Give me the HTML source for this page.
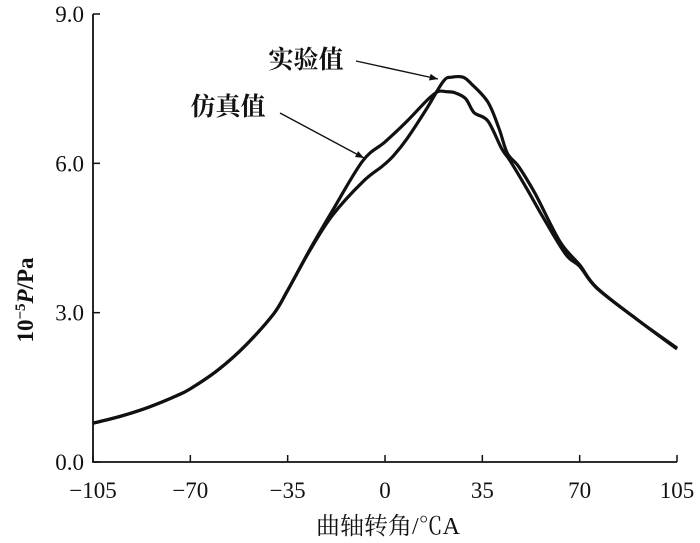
<!DOCTYPE html>
<html><head><meta charset="utf-8"><style>
body{margin:0;background:#fff}
svg{display:block}
text{font-family:"Liberation Serif","Noto Serif CJK SC",serif;fill:#111}
</style></head><body>
<svg id="chart" width="700" height="543" viewBox="0 0 700 543">
<defs><marker id="ah" viewBox="0 0 10 10" refX="10" refY="5" markerWidth="8" markerHeight="6" orient="auto"><path d="M0,1 L10,5 L0,9 z" fill="#111"/></marker></defs>
<g id="axes"></g>
<g id="series"></g>
<text x="306" y="68" font-size="25" font-weight="bold" text-anchor="middle" font-family="'Noto Serif CJK SC',serif">实验值</text>
<line x1="356" y1="61" x2="438" y2="79" stroke="#111" stroke-width="1.4" marker-end="url(#ah)"/>
<text x="228" y="115" font-size="25" font-weight="bold" text-anchor="middle" font-family="'Noto Serif CJK SC',serif">仿真值</text>
<line x1="280" y1="113" x2="364" y2="158" stroke="#111" stroke-width="1.4" marker-end="url(#ah)"/>
<text transform="translate(33,300) rotate(-90)" font-size="23" font-weight="bold" text-anchor="middle">10<tspan baseline-shift="super" font-size="15">−5</tspan><tspan font-style="italic">P</tspan>/Pa</text>
<text x="388" y="534" font-size="24" text-anchor="middle" font-family="'Noto Serif CJK SC',serif">曲轴转角/℃A</text>
</svg>
<script>
const xTicks=[-105,-70,-35,0,35,70,105];
const yTicks=[0,3,6,9];
const yTickLabels=["0.0","3.0","6.0","9.0"];
const expX=[-105,-95,-85,-75,-70,-60,-50,-40,-35,-27,-19,-8,-1,3,8,15,21,24,28,31,37,41,44,48,54,63,70,76,90,105];
const expY=[0.78,0.92,1.1,1.33,1.47,1.85,2.35,2.98,3.45,4.25,4.95,5.63,5.94,6.15,6.5,7.1,7.65,7.73,7.73,7.6,7.23,6.7,6.2,5.94,5.39,4.42,3.96,3.51,2.89,2.29];
const simX=[-105,-95,-85,-75,-70,-60,-50,-40,-35,-27,-19,-8,0,8,15,19,22,25,29,32,37,42,45,51,57,65,70,76,90,105];
const simY=[0.78,0.92,1.1,1.33,1.47,1.85,2.35,2.98,3.45,4.27,5.04,6.05,6.43,6.85,7.26,7.44,7.44,7.42,7.3,7.02,6.85,6.29,6.05,5.49,4.9,4.17,3.93,3.5,2.89,2.27];
const L=93,R=677,B=462,T=14;
const sx=v=>L+(v+105)/210*(R-L);
const sy=v=>B-v/9*(B-T);
const NS="http://www.w3.org/2000/svg";
function mk(tag,attrs,parent){const e=document.createElementNS(NS,tag);for(const k in attrs)e.setAttribute(k,attrs[k]);parent.appendChild(e);return e;}
const ax=document.getElementById('axes');
let a=mk('path',{d:`M${L},${T} L${L},${B} L${R},${B}`,fill:'none',stroke:'#111','stroke-width':1.8},ax);


xTicks.forEach(t=>{
 let l=mk('line',{x1:sx(t),x2:sx(t),y1:B,y2:B-7,stroke:'#111','stroke-width':1.5},ax);
 
 
 let tx=mk('text',{x:sx(t),y:B+36,'font-size':23,'text-anchor':'middle'},ax);
 tx.textContent=t<0?'−'+(-t):String(t);
 
 
});
yTicks.forEach((t,i)=>{
 let l=mk('line',{x1:L,x2:L+7,y1:sy(t),y2:sy(t),stroke:'#111','stroke-width':1.5},ax);
 
 
 let tx=mk('text',{x:L-9,y:sy(t)+8,'font-size':23,'text-anchor':'end'},ax);
 tx.textContent=yTickLabels[i];
 
 
});
const sg=document.getElementById('series');
function line(xs,ys,name){
 const P=xs.map((x,i)=>[sx(x),sy(ys[i])]);
 let d='M'+P[0][0].toFixed(1)+','+P[0][1].toFixed(1);
 for(let i=0;i<P.length-1;i++){
  const p0=P[Math.max(0,i-1)],p1=P[i],p2=P[i+1],p3=P[Math.min(P.length-1,i+2)];
  const k=1/6;
  const c1=[p1[0]+(p2[0]-p0[0])*k,p1[1]+(p2[1]-p0[1])*k];
  const c2=[p2[0]-(p3[0]-p1[0])*k,p2[1]-(p3[1]-p1[1])*k];
  d+=` C${c1[0].toFixed(1)},${c1[1].toFixed(1)} ${c2[0].toFixed(1)},${c2[1].toFixed(1)} ${p2[0].toFixed(1)},${p2[1].toFixed(1)}`;
 }
 const p=mk('path',{d,fill:'none',stroke:'#111','stroke-width':3.2,'stroke-linejoin':'round'},sg);
 
 
}
line(expX,expY,'experimental-line');
line(simX,simY,'simulation-line');
</script>
</body></html>
